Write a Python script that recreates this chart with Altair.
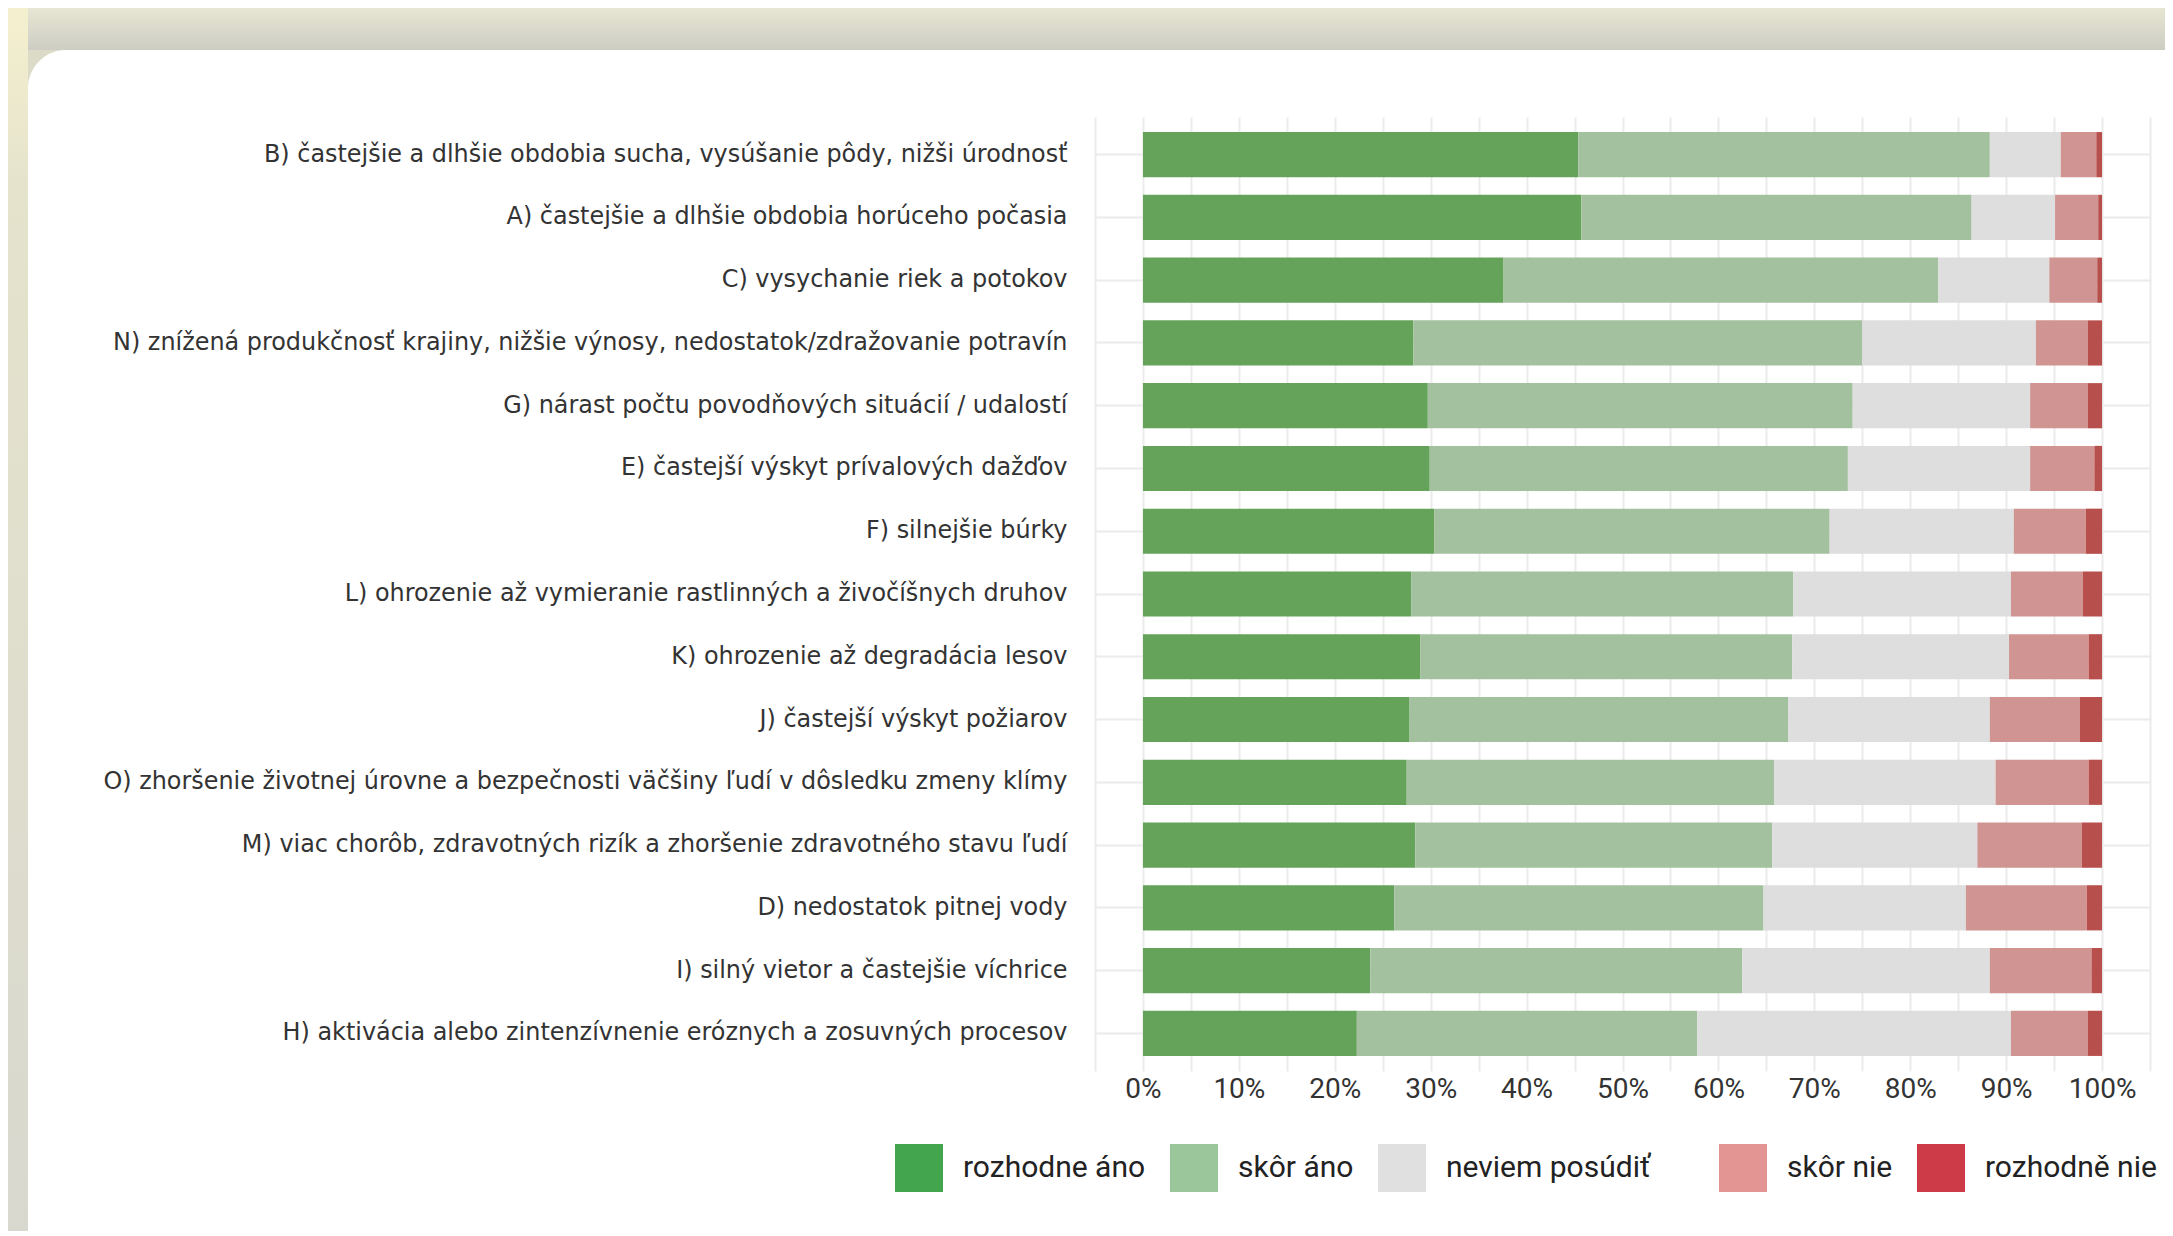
import altair as alt
import pandas as pd

items = [
    "B) častejšie a dlhšie obdobia sucha, vysúšanie pôdy, nižši úrodnosť",
    "A) častejšie a dlhšie obdobia horúceho počasia",
    "C) vysychanie riek a potokov",
    "N) znížená produkčnosť krajiny, nižšie výnosy, nedostatok/zdražovanie potravín",
    "G) nárast počtu povodňových situácií / udalostí",
    "E) častejší výskyt prívalových dažďov",
    "F) silnejšie búrky",
    "L) ohrozenie až vymieranie rastlinných a živočíšnych druhov",
    "K) ohrozenie až degradácia lesov",
    "J) častejší výskyt požiarov",
    "O) zhoršenie životnej úrovne a bezpečnosti väčšiny ľudí v dôsledku zmeny klímy",
    "M) viac chorôb, zdravotných rizík a zhoršenie zdravotného stavu ľudí",
    "D) nedostatok pitnej vody",
    "I) silný vietor a častejšie víchrice",
    "H) aktivácia alebo zintenzívnenie eróznych a zosuvných procesov",
]
answers = ["rozhodne áno", "skôr áno", "neviem posúdiť", "skôr nie", "rozhodně nie"]

rozhodne_ano = [45.4, 45.7, 37.6, 28.2, 29.7, 29.9, 30.4, 28.0, 28.9, 27.8, 27.5, 28.4, 26.2, 23.7, 22.3]
skor_ano = [42.9, 40.7, 45.3, 46.8, 44.3, 43.6, 41.2, 39.8, 38.8, 39.5, 38.3, 37.2, 38.5, 38.8, 35.5]
neviem = [7.4, 8.7, 11.6, 18.1, 18.5, 19.0, 19.2, 22.7, 22.6, 21.0, 23.1, 21.4, 21.1, 25.8, 32.7]
skor_nie = [3.7, 4.5, 5.0, 5.4, 6.0, 6.7, 7.5, 7.5, 8.3, 9.4, 9.7, 10.9, 12.6, 10.6, 8.0]
rozhodne_nie = [0.6, 0.4, 0.5, 1.5, 1.5, 0.8, 1.7, 2.0, 1.4, 2.3, 1.4, 2.1, 1.6, 1.1, 1.5]

bar_colors = ["#65a35b", "#a4c19f", "#dedede", "#d09592", "#b74f4d"]
legend_colors = ["#43a54e", "#9bc59a", "#e0e0e0", "#e39594", "#cc3b47"]

grid_values = [-5, 0, 5, 10, 15, 20, 25, 30, 35, 40, 45, 50, 55, 60, 65, 70, 75, 80, 85, 90, 95, 100, 105]

series = [rozhodne_ano, skor_ano, neviem, skor_nie, rozhodne_nie]
rows = []
for ai, (ans, vals) in enumerate(zip(answers, series)):
    for item, v in zip(items, vals):
        rows.append({"item": item, "answer": ans, "idx": ai, "value": v})
df = pd.DataFrame(rows)

# --- decorative page frame (screenshot background) ---
frame_df = pd.DataFrame({"k": [0]})
top_grad = alt.LinearGradient(
    gradient="linear",
    stops=[alt.GradientStop(offset=0, color="#eeecd6"), alt.GradientStop(offset=1, color="#cdcdc4")],
    x1=0, x2=0, y1=0, y2=1,
)
left_grad = alt.LinearGradient(
    gradient="linear",
    stops=[
        alt.GradientStop(offset=0, color="#f5f1cf"),
        alt.GradientStop(offset=0.15, color="#e5e3cc"),
        alt.GradientStop(offset=1, color="#d8d8cf"),
    ],
    x1=0, x2=0, y1=0, y2=1,
)
fbase = alt.Chart(frame_df)
top_strip = fbase.mark_rect(fill=top_grad).encode(
    x=alt.value(-1100), x2=alt.value(1100), y=alt.value(-120), y2=alt.value(-67)
)
left_strip = fbase.mark_rect(fill=left_grad).encode(
    x=alt.value(-1100), x2=alt.value(-1067), y=alt.value(-120), y2=alt.value(1130)
)
corner_fill = fbase.mark_rect(fill="#dcdbc8").encode(
    x=alt.value(-1067), x2=alt.value(-1025), y=alt.value(-67), y2=alt.value(-25)
)
corner_card = fbase.mark_rect(fill="white", cornerRadius=38).encode(
    x=alt.value(-1067), x2=alt.value(-985), y=alt.value(-67), y2=alt.value(15)
)

base = alt.Chart(df)

bars = base.mark_bar(strokeWidth=0).encode(
    x=alt.X(
        "value:Q",
        stack="zero",
        scale=alt.Scale(domain=[-5, 105], nice=False, zero=False),
        axis=alt.Axis(
            values=grid_values,
            labelExpr="(datum.value >= 0 && datum.value <= 100 && datum.value % 10 == 0) ? datum.value + '%' : ''",
            grid=True,
            gridColor="#ebebeb",
            gridWidth=2,
            ticks=False,
            tickSize=0,
            domain=False,
            title=None,
            labelFont="Roboto",
            labelFontSize=28,
            labelColor="#333333",
            labelPadding=4,
        ),
    ),
    y=alt.Y(
        "item:N",
        sort=items,
        scale=alt.Scale(paddingInner=0.28, paddingOuter=0.24),
        axis=alt.Axis(
            title=None,
            bandPosition=0.5,
            grid=True,
            gridColor="#ebebeb",
            gridWidth=2,
            ticks=False,
            tickSize=0,
            domain=False,
            labelLimit=0,
            labelPadding=28,
            labelFont="DejaVu Sans",
            labelFontSize=23.9,
            labelColor="#333333",
        ),
    ),
    color=alt.Color(
        "answer:N",
        scale=alt.Scale(domain=answers, range=bar_colors),
        legend=None,
    ),
    order=alt.Order("idx:Q"),
)

legend_layer = base.mark_square(size=0, opacity=0).encode(
    color=alt.Color(
        "answer:N",
        scale=alt.Scale(domain=answers, range=legend_colors),
        legend=alt.Legend(
            title=None,
            orient="none",
            legendX=-200,
            legendY=1027,
            direction="horizontal",
            columns=5,
            columnPadding=24,
            symbolType="square",
            symbolSize=2304,
            symbolOpacity=1,
            symbolStrokeWidth=0,
            labelOffset=20,
            labelFont="Roboto",
            labelFontSize=30,
            labelColor="#222222",
            labelLimit=0,
            labelExpr="datum.label == 'neviem posúdiť' ? datum.label + '\u2800\u2800' : datum.label",
        ),
    ),
)

chart = (
    alt.layer(top_strip, left_strip, corner_fill, corner_card, bars, legend_layer)
    .resolve_scale(color="independent")
    .properties(
        width=1055,
        height=954,
        autosize=alt.AutoSizeParams(type="none"),
        padding={"left": 1087, "top": 109, "right": 15, "bottom": 160},
        background="white",
    )
    .configure_view(stroke=None)
)

chart.save("out.html", embed_options={"renderer": "svg", "actions": False})
